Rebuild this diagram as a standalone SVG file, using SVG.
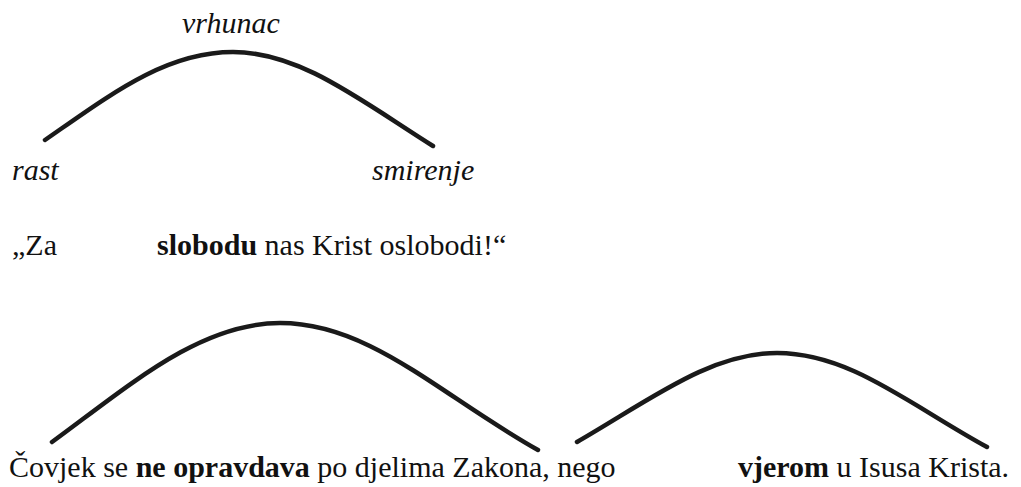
<svg xmlns="http://www.w3.org/2000/svg" width="1021" height="487" viewBox="0 0 1021 487">
<style>
text{font-family:'Liberation Serif','DejaVu Serif',serif;font-size:30px;fill:#111}
.i{font-style:italic}
.b{font-weight:bold}
.arc{fill:none;stroke:#1a1a1a;stroke-width:4.5;stroke-linecap:round;stroke-linejoin:round}
</style>
<rect width="1021" height="487" fill="#fff"/>
<g id="connectors">
<path class="arc" d="M45,140 C110,95 165,52 233,52 C300,52 360,100 433,146"/>
<path class="arc" d="M52,442 C130,385 200,323 280,323 C370,323 440,395 538,450"/>
<path class="arc" d="M577,442 C650,400 710,353 777,353 C850,353 910,405 987,447"/>
</g>
<g id="top-labels">
<text class="i" x="182" y="33">vrhunac</text>
<text class="i" x="12" y="180">rast</text>
<text class="i" x="372" y="180">smirenje</text>
</g>
<g id="line2">
<text x="12" y="255">„Za</text>
<text x="157" y="255"><tspan class="b">slobodu</tspan> nas Krist oslobodi!“</text>
</g>
<g id="line3">
<text x="9" y="477">Čovjek se <tspan class="b">ne opravdava</tspan> po djelima Zakona, nego</text>
<text x="738" y="477"><tspan class="b">vjerom</tspan> u Isusa Krista.</text>
</g>
</svg>
